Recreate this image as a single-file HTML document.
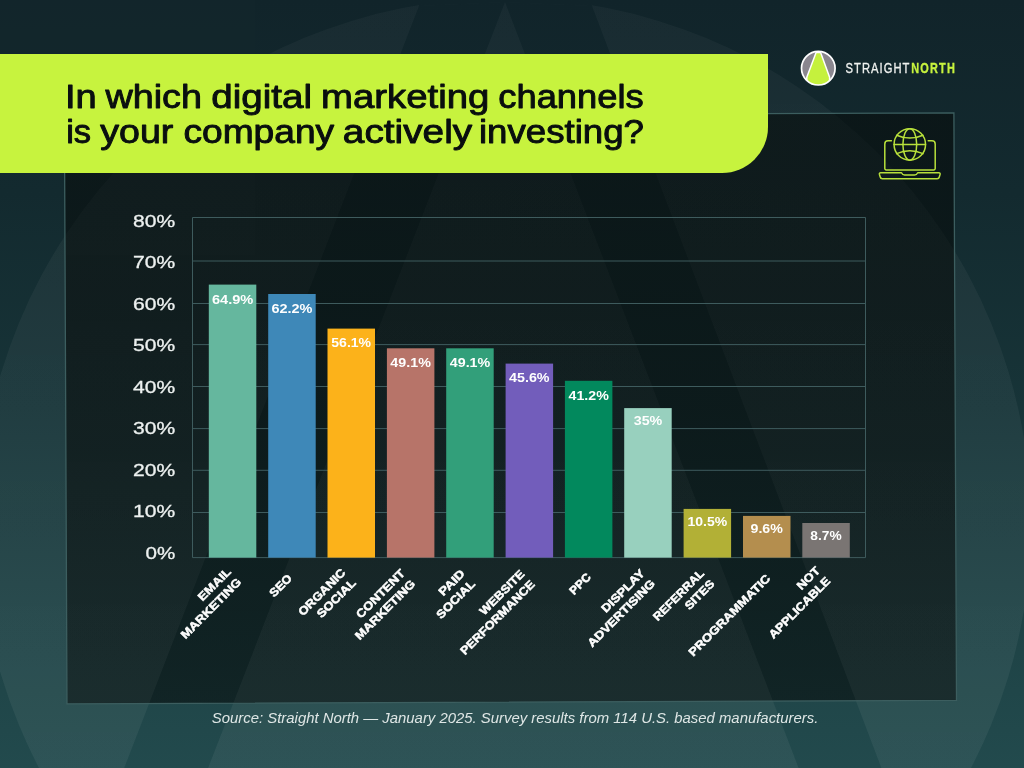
<!DOCTYPE html>
<html><head><meta charset="utf-8"><title>Digital marketing channels</title>
<style>
html,body{margin:0;padding:0;background:#12262b;}
body{width:1024px;height:768px;overflow:hidden;font-family:"Liberation Sans",sans-serif;}
svg{display:block;font-family:"Liberation Sans",sans-serif;will-change:transform;opacity:0.9999;}
</style></head><body>
<svg width="1024" height="768" viewBox="0 0 1024 768">
<defs>
<linearGradient id="bg" x1="0" y1="0" x2="0" y2="1">
<stop offset="0" stop-color="#12252b"/><stop offset="0.25" stop-color="#142b30"/><stop offset="0.53" stop-color="#183539"/><stop offset="0.8" stop-color="#1f4346"/><stop offset="1" stop-color="#234b4e"/>
</linearGradient>
<linearGradient id="lg" x1="0" y1="0" x2="0" y2="1">
<stop offset="0" stop-color="#ffffff" stop-opacity="0.034"/><stop offset="1" stop-color="#ffffff" stop-opacity="0.058"/>
</linearGradient>
<clipPath id="pc"><polygon points="65.1,117 953.3,113.6 955.8,699.7 67.7,703.1"/></clipPath>
<linearGradient id="pn" gradientUnits="userSpaceOnUse" x1="0" y1="113" x2="0" y2="703">
<stop offset="0" stop-color="#091111" stop-opacity="0.70"/><stop offset="0.32" stop-color="#091111" stop-opacity="0.72"/><stop offset="0.57" stop-color="#091111" stop-opacity="0.71"/><stop offset="1" stop-color="#091111" stop-opacity="0.63"/>
</linearGradient>
<linearGradient id="lg2" x1="0" y1="0" x2="0" y2="1">
<stop offset="0.15" stop-color="#ffffff" stop-opacity="0.008"/><stop offset="0.9" stop-color="#ffffff" stop-opacity="0.024"/>
</linearGradient>
<mask id="lm">
<circle cx="505" cy="524" r="526" fill="#fff"/>
<polygon points="419,6 505,2 208.1,768 124.2,768" fill="#000"/>
<polygon points="592,6 505,2 798.6,768 881.4,768" fill="#000"/>
<polygon points="419,6 505,2 592,6 592,-300 419,-300" fill="#000"/>
</mask>
</defs>
<rect width="1024" height="768" fill="url(#bg)"/>
<rect width="1024" height="768" fill="url(#lg)" mask="url(#lm)"/>
<polygon points="64.4,116.4 953.9,112.9 956.5,700.3 67,703.8" fill="url(#pn)" stroke="#3d5f60" stroke-width="1.3"/>
<g clip-path="url(#pc)"><rect width="1024" height="768" fill="url(#lg2)" mask="url(#lm)"/></g>
<path d="M0,54 H768 V127 A46,46 0 0 1 722,173 H0 Z" fill="#c8f43f"/>
<g font-size="32.3" fill="#0a0f0f" stroke="#0a0f0f" stroke-width="0.9" stroke-linejoin="round">
<text x="64.92" y="107.5" textLength="31.78" lengthAdjust="spacingAndGlyphs">In</text>
<text x="105.45" y="107.5" textLength="96.58" lengthAdjust="spacingAndGlyphs">which</text>
<text x="211.35" y="107.5" textLength="100.71" lengthAdjust="spacingAndGlyphs">digital</text>
<text x="321.02" y="107.5" textLength="168.33" lengthAdjust="spacingAndGlyphs">marketing</text>
<text x="498.27" y="107.5" textLength="145.51" lengthAdjust="spacingAndGlyphs">channels</text>
<text x="66.17" y="143.3" textLength="24.93" lengthAdjust="spacingAndGlyphs">is</text>
<text x="100.29" y="143.3" textLength="73.07" lengthAdjust="spacingAndGlyphs">your</text>
<text x="183.41" y="143.3" textLength="150.76" lengthAdjust="spacingAndGlyphs">company</text>
<text x="342.87" y="143.3" textLength="129.3" lengthAdjust="spacingAndGlyphs">actively</text>
<text x="478.92" y="143.3" textLength="165.02" lengthAdjust="spacingAndGlyphs">investing?</text>
</g>

<g>
<circle cx="818.3" cy="68.2" r="16.8" fill="#8b8790"/>
<clipPath id="lc"><circle cx="818.3" cy="68.2" r="16.8"/></clipPath>
<g clip-path="url(#lc)">
<polygon points="816.1,52.6 820.6,52.6 829.6,77.2 829.6,90 806.8,90 806.8,77.2" fill="#c6f23e" stroke="#ffffff" stroke-width="1.5" stroke-linejoin="round"/>
</g>
<circle cx="818.3" cy="68.2" r="16.8" fill="none" stroke="#ffffff" stroke-width="1.7"/>
<text transform="translate(845.6,73.4) scale(0.8,1)" font-size="14" fill="#f0f2f0" stroke="#f0f2f0" stroke-width="0.3" letter-spacing="1.3">STRAIGHT</text>
<text transform="translate(911.3,73.4) scale(0.78,1)" font-size="14" font-weight="bold" fill="#c8f43f" stroke="#c8f43f" stroke-width="0.3" letter-spacing="1.5">NORTH</text>
</g>

<g fill="none" stroke="#b9e13c" stroke-width="1.5" stroke-linecap="round" stroke-linejoin="round">
<path d="M891.4,140.8 H888 A3.2,3.2 0 0 0 884.8,144 V168.5 A1.4,1.4 0 0 0 886.2,169.9 H933.8 A1.4,1.4 0 0 0 935.2,168.5 V144 A3.2,3.2 0 0 0 932,140.8 H928.2"/>
<path d="M880.6,172.8 H901.5 Q902.6,175.1 904.6,175.1 H914.6 Q916.6,175.1 917.7,172.8 H938.9 Q940.4,172.8 940.1,174.2 L939.3,177 Q938.9,178.7 937.2,178.7 H882.3 Q880.6,178.7 880.2,177 L879.4,174.2 Q879.1,172.8 880.6,172.8 Z"/>
<circle cx="909.8" cy="144.4" r="15.75"/>
<ellipse cx="909.8" cy="144.4" rx="6.9" ry="15.75"/>
<path d="M894.1,144.4 H925.5"/>
<path d="M896.6,135.2 Q909.8,141.0 923.0,135.2"/>
<path d="M896.6,153.6 Q909.8,147.8 923.0,153.6"/>
</g>

<g stroke="#3f5c5e" stroke-width="1" fill="none">
<path d="M192.5,217.5 H865.5"/>
<path d="M192.5,261 H865.5"/>
<path d="M192.5,303.5 H865.5"/>
<path d="M192.5,344.6 H865.5"/>
<path d="M192.5,386.5 H865.5"/>
<path d="M192.5,428.6 H865.5"/>
<path d="M192.5,470.3 H865.5"/>
<path d="M192.5,512.5 H865.5"/>
<path d="M192.5,557.6 H865.5"/>
<path d="M192.5,217.5 V557.6"/><path d="M865.5,217.5 V557.6"/>
</g>
<g font-size="17.3" fill="#eef2f1" stroke="#eef2f1" stroke-width="0.3" text-anchor="end">
<text x="175.3" y="226.6" textLength="42.2" lengthAdjust="spacingAndGlyphs">80%</text>
<text x="175.3" y="268.2" textLength="42.2" lengthAdjust="spacingAndGlyphs">70%</text>
<text x="175.3" y="309.7" textLength="42.2" lengthAdjust="spacingAndGlyphs">60%</text>
<text x="175.3" y="351.2" textLength="42.2" lengthAdjust="spacingAndGlyphs">50%</text>
<text x="175.3" y="392.8" textLength="42.2" lengthAdjust="spacingAndGlyphs">40%</text>
<text x="175.3" y="434.4" textLength="42.2" lengthAdjust="spacingAndGlyphs">30%</text>
<text x="175.3" y="475.9" textLength="42.2" lengthAdjust="spacingAndGlyphs">20%</text>
<text x="175.3" y="517.4" textLength="42.2" lengthAdjust="spacingAndGlyphs">10%</text>
<text x="175.3" y="559.0" textLength="29.8" lengthAdjust="spacingAndGlyphs">0%</text>
</g>
<rect x="208.8" y="284.6" width="47.5" height="273.0" fill="#66b89f"/>
<rect x="268.2" y="294.0" width="47.5" height="263.6" fill="#3f89b9"/>
<rect x="327.5" y="328.6" width="47.5" height="229.0" fill="#fdb31b"/>
<rect x="386.9" y="348.3" width="47.5" height="209.3" fill="#b8756a"/>
<rect x="446.2" y="348.3" width="47.5" height="209.3" fill="#33a07b"/>
<rect x="505.6" y="363.6" width="47.5" height="194.0" fill="#735ebc"/>
<rect x="564.9" y="380.8" width="47.5" height="176.8" fill="#038a5e"/>
<rect x="624.2" y="408.1" width="47.5" height="149.5" fill="#99d1bf"/>
<rect x="683.6" y="508.9" width="47.5" height="48.7" fill="#b3b137"/>
<rect x="743.0" y="515.9" width="47.5" height="41.7" fill="#b58f4f"/>
<rect x="802.3" y="523.0" width="47.5" height="34.6" fill="#7b7674"/>
<g font-size="12" font-weight="bold" fill="#ffffff" text-anchor="middle">
<text x="232.6" y="304.0" textLength="41.4" lengthAdjust="spacingAndGlyphs">64.9%</text>
<text x="291.9" y="313.4" textLength="41.0" lengthAdjust="spacingAndGlyphs">62.2%</text>
<text x="351.2" y="347.1" textLength="39.8" lengthAdjust="spacingAndGlyphs">56.1%</text>
<text x="410.6" y="366.9" textLength="40.5" lengthAdjust="spacingAndGlyphs">49.1%</text>
<text x="470.0" y="366.9" textLength="40.5" lengthAdjust="spacingAndGlyphs">49.1%</text>
<text x="529.3" y="382.2" textLength="40.5" lengthAdjust="spacingAndGlyphs">45.6%</text>
<text x="588.7" y="399.6" textLength="40.2" lengthAdjust="spacingAndGlyphs">41.2%</text>
<text x="648.0" y="424.8" textLength="28.6" lengthAdjust="spacingAndGlyphs">35%</text>
<text x="707.4" y="525.9" textLength="39.7" lengthAdjust="spacingAndGlyphs">10.5%</text>
<text x="766.7" y="532.9" textLength="32.3" lengthAdjust="spacingAndGlyphs">9.6%</text>
<text x="826.0" y="540.0" textLength="31.3" lengthAdjust="spacingAndGlyphs">8.7%</text>
</g>
<g font-size="11.6" font-weight="bold" fill="#ffffff" stroke="#ffffff" stroke-width="0.5" stroke-linejoin="round">
<g transform="translate(232.5,573.3) rotate(-45)">
<text x="-41.2" y="-1.1" textLength="41.2" lengthAdjust="spacingAndGlyphs">EMAIL</text>
<text x="-80.0" y="13.5" textLength="80.0" lengthAdjust="spacingAndGlyphs">MARKETING</text>
</g>
<g transform="translate(292.7,579.0) rotate(-45)">
<text x="-26.5" y="0" textLength="26.5" lengthAdjust="spacingAndGlyphs">SEO</text>
</g>
<g transform="translate(347.0,574.1) rotate(-45)">
<text x="-61.2" y="-1.1" textLength="61.2" lengthAdjust="spacingAndGlyphs">ORGANIC</text>
<text x="-49.4" y="13.5" textLength="49.4" lengthAdjust="spacingAndGlyphs">SOCIAL</text>
</g>
<g transform="translate(406.3,575.0) rotate(-45)">
<text x="-63.2" y="-1.1" textLength="63.2" lengthAdjust="spacingAndGlyphs">CONTENT</text>
<text x="-79.2" y="13.5" textLength="79.2" lengthAdjust="spacingAndGlyphs">MARKETING</text>
</g>
<g transform="translate(466.3,575.1) rotate(-45)">
<text x="-31.5" y="-1.1" textLength="31.5" lengthAdjust="spacingAndGlyphs">PAID</text>
<text x="-49.2" y="13.5" textLength="49.2" lengthAdjust="spacingAndGlyphs">SOCIAL</text>
</g>
<g transform="translate(525.9,575.5) rotate(-45)">
<text x="-57.9" y="-1.1" textLength="57.9" lengthAdjust="spacingAndGlyphs">WEBSITE</text>
<text x="-99.7" y="13.5" textLength="99.7" lengthAdjust="spacingAndGlyphs">PERFORMANCE</text>
</g>
<g transform="translate(591.6,577.8) rotate(-45)">
<text x="-24.9" y="0" textLength="24.9" lengthAdjust="spacingAndGlyphs">PPC</text>
</g>
<g transform="translate(646.1,574.8) rotate(-45)">
<text x="-55.6" y="-1.1" textLength="55.6" lengthAdjust="spacingAndGlyphs">DISPLAY</text>
<text x="-89.7" y="13.5" textLength="89.7" lengthAdjust="spacingAndGlyphs">ADVERTISING</text>
</g>
<g transform="translate(705.6,575.1) rotate(-45)">
<text x="-66.7" y="-1.1" textLength="66.7" lengthAdjust="spacingAndGlyphs">REFERRAL</text>
<text x="-36.4" y="13.5" textLength="36.4" lengthAdjust="spacingAndGlyphs">SITES</text>
</g>
<g transform="translate(771.0,579.2) rotate(-45)">
<text x="-109.9" y="0" textLength="109.9" lengthAdjust="spacingAndGlyphs">PROGRAMMATIC</text>
</g>
<g transform="translate(821.5,572.1) rotate(-45)">
<text x="-27.2" y="-1.1" textLength="27.2" lengthAdjust="spacingAndGlyphs">NOT</text>
<text x="-81.3" y="13.5" textLength="81.3" lengthAdjust="spacingAndGlyphs">APPLICABLE</text>
</g>
</g>
<text x="211.8" y="723.3" font-size="14.5" font-style="italic" fill="#dfe7e6" textLength="606.5" lengthAdjust="spacingAndGlyphs">Source: Straight North — January 2025. Survey results from 114 U.S. based manufacturers.</text>
</svg></body></html>
